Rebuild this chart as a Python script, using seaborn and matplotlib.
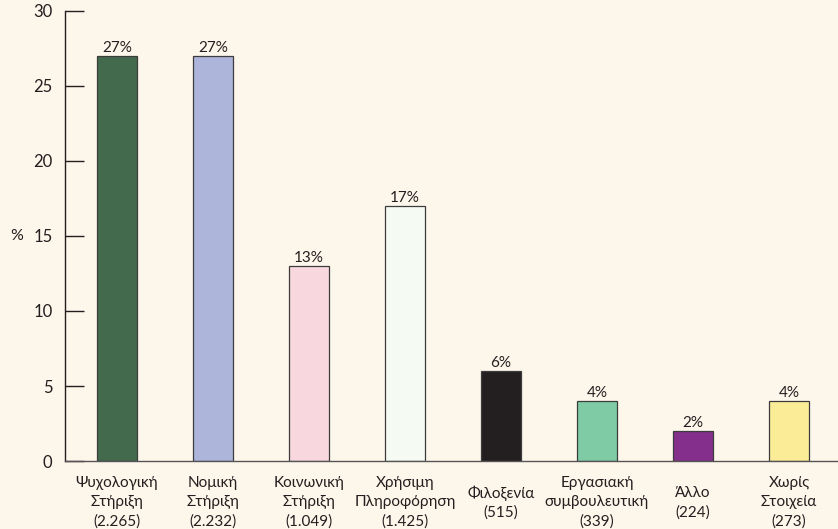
import matplotlib
matplotlib.use("Agg")
import matplotlib.pyplot as plt
import seaborn as sns
import pandas as pd

categories = ["Ψυχολογική\nΣτήριξη\n(2.265)", "Νομική\nΣτήριξη\n(2.232)", "Κοινωνική\nΣτήριξη\n(1.049)",
              "Χρήσιμη\nΠληροφόρηση\n(1.425)", "Φιλοξενία\n(515)", "Εργασιακή\nσυμβουλευτική\n(339)",
              "Άλλο\n(224)", "Χωρίς\nΣτοιχεία\n(273)"]
percent = [27, 27, 13, 17, 6, 4, 2, 4]
bar_colors = ["#436a4c", "#adb5da", "#f9d7df", "#f5faf3", "#231f20", "#7fcba5", "#842f8c", "#fbec98"]
y_ticks = [0, 5, 10, 15, 20, 25, 30]

bg = "#fdf6ea"
sns.set_theme(style="white")
plt.rcParams['font.family'] = ['Lato', 'DejaVu Sans']

df = pd.DataFrame({"cat": categories, "pct": percent})

fig = plt.figure(figsize=(8.38, 5.29), dpi=100, facecolor=bg)
ax = fig.add_axes([0.0776, 0.1285, 0.9224, 0.8508])
ax.set_facecolor(bg)

sns.barplot(data=df, x="cat", y="pct", hue="cat", palette=bar_colors, legend=False,
            width=0.41, edgecolor="#3c3c3c", linewidth=0.9, saturation=1, ax=ax)

for c in ax.containers:
    ax.bar_label(c, labels=[f"{v:.0f}%" for v in c.datavalues], padding=1,
                 fontsize=11, color="#231f20")

ax.set_xlim(-0.54, 7.51)
ax.set_ylim(0, 30)
ax.set_yticks(y_ticks)
ax.tick_params(axis="y", direction="in", length=13.5, width=1, color="#231f20",
               labelsize=12, pad=9, labelcolor="#231f20", left=True)
ax.tick_params(axis="x", length=0, pad=30, labelsize=11, labelcolor="#231f20")
for lbl in ax.get_xticklabels():
    lbl.set_verticalalignment("center")
    lbl.set_linespacing(1.45)

ax.set_xlabel(None)
ax.set_ylabel("%", rotation=0, fontsize=11.5, color="#231f20", va="center")
ax.yaxis.set_label_coords(-0.062, 0.5)

sns.despine(ax=ax)
ax.spines["left"].set_color("#231f20")
ax.spines["bottom"].set_color("#555555")
ax.spines["left"].set_linewidth(1)
ax.spines["bottom"].set_linewidth(1)

fig.savefig("out.png", dpi=100, facecolor=bg)
